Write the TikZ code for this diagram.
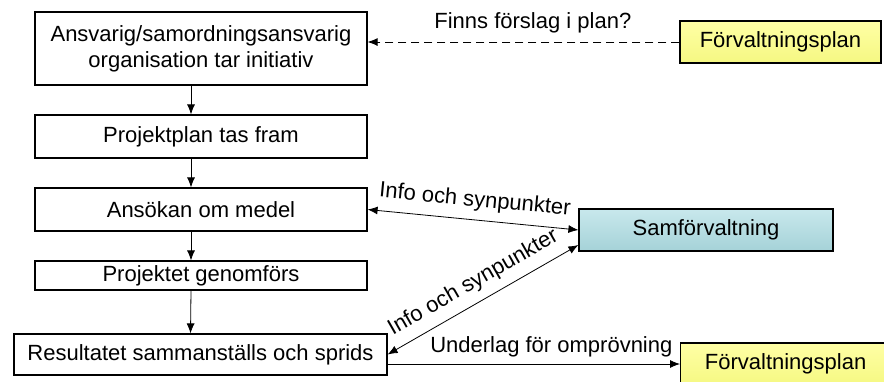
\documentclass[tikz,border=0pt]{standalone}
\usepackage{fontspec}
\setmainfont{Liberation Sans}
\usetikzlibrary{arrows.meta}
\definecolor{planyellow}{RGB}{255,255,165}
\definecolor{planyellowdark}{RGB}{245,248,130}
\definecolor{samteal}{RGB}{200,232,236}
\definecolor{samtealdark}{RGB}{165,210,216}
\begin{document}
\begin{tikzpicture}[x=0.5pt,y=-0.5pt,>={Latex[length=5pt,width=4pt]},
  proc/.style={draw,line width=0.6pt,minimum width=166pt,inner sep=0pt,align=center,
    font=\fontsize{11}{13}\selectfont},
  plan/.style={draw,line width=0.6pt,minimum width=100.5pt,minimum height=21pt,inner sep=0pt,
    top color=planyellow,bottom color=planyellowdark,font=\fontsize{11}{13}\selectfont},
  lbl/.style={font=\fontsize{11}{13}\selectfont}]
\clip (0,0) rectangle (884,381);
\fill[white] (0,0) rectangle (884,381);

% the project steps
\node[proc,minimum height=36.5pt] (init) at (201,48.5) {Ansvarig/samordningsansvarig\\organisation tar initiativ};
\node[proc,minimum height=21.5pt] (plan) at (201,136.5) {Projektplan tas fram};
\node[proc,minimum height=21.5pt] (ansok) at (201,209.5) {Ansökan om medel};
\node[proc,minimum height=14.5pt] (genom) at (201,275.5) {Projektet genomförs};
\node[proc,minimum width=186.5pt,minimum height=20.5pt] (result) at (200.5,354.5) {Resultatet sammanställs och sprids};

% boxes on the right
\node[plan] (fplan) at (780.5,42) {Förvaltningsplan};
\node[draw,line width=0.6pt,minimum width=127pt,minimum height=21pt,inner sep=0pt,
  top color=samteal,bottom color=samtealdark,font=\fontsize{11}{13}\selectfont] (sam) at (706,230) {Samförvaltning};
\node[plan,minimum width=105pt,anchor=west] (fplanb) at (680,364) {Förvaltningsplan};

\draw[->] ([xshift=-5pt]init.south) -- ([xshift=-5pt]plan.north);
\draw[->] ([xshift=-5pt]plan.south) -- ([xshift=-5pt]ansok.north);
\draw[->] ([xshift=-5pt]ansok.south) -- ([xshift=-5pt]genom.north);
\draw[->] ([xshift=-5pt]genom.south) -- ([xshift=-5pt]result.north);

\draw[->,dash pattern=on 4pt off 2.5pt] (fplan.west) -- (fplan.west -| init.east) node[lbl,pos=0.47,above=1pt]{Finns förslag i plan?};
\draw[<->] (ansok.east) -- (sam.west) node[lbl,midway,sloped,above=1pt]{Info och synpunkter};
\draw[<->] (result.east) -- ([yshift=-7.5pt]sam.west) node[lbl,midway,sloped,above=1pt]{Info och synpunkter};
\draw[->] (result.east |- fplanb.west) -- (fplanb.west) node[lbl,pos=0.56,above=0pt]{Underlag för omprövning};

\end{tikzpicture}
\end{document}
